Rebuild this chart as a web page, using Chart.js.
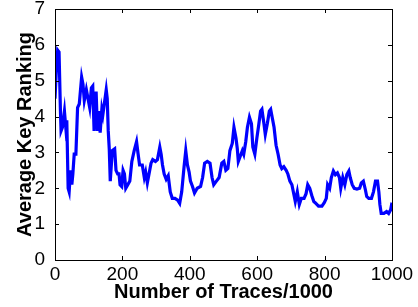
<!DOCTYPE html>
<html>
<head>
<meta charset="utf-8">
<script src="https://cdn.jsdelivr.net/npm/chart.js@4"></script>
<style>
  html, body { margin: 0; padding: 0; background: #fff; }
  #wrap { width: 418px; height: 307px; }
</style>
</head>
<body>
<div id="wrap"><canvas id="rankChart" width="418" height="307"></canvas></div>
<script>
// Number of traces (x1000)
const traces = [0, 4, 8, 12, 16, 18, 22, 28, 32, 35, 39, 42, 46, 50, 53, 57, 62, 67, 72, 79, 83, 87, 93, 98, 103, 108, 112, 116, 122, 126, 130, 134, 139, 142, 147, 152, 155, 158, 161, 164, 170, 177, 181, 186, 190, 193, 198, 202, 206, 210, 216, 222, 228, 235, 242, 246, 251, 259, 265, 269, 274, 279, 285, 290, 298, 304, 311, 315, 319, 324, 330, 336, 342, 348, 356, 364, 370, 376, 383, 388, 393, 398, 402, 408, 414, 422, 432, 438, 444, 452, 460, 466, 471, 479, 487, 495, 501, 507, 513, 519, 526, 531, 537, 541, 544, 550, 556, 560, 566, 571, 577, 583, 587, 593, 599, 605, 610, 614, 620, 624, 630, 636, 640, 644, 650, 656, 662, 668, 673, 679, 686, 691, 697, 703, 709, 713, 719, 725, 731, 739, 745, 750, 756, 762, 768, 772, 782, 792, 799, 805, 809, 815, 820, 826, 832, 838, 844, 848, 854, 860, 866, 872, 876, 882, 888, 896, 904, 909, 915, 921, 925, 931, 939, 945, 951, 957, 961, 964, 968, 976, 984, 990, 996, 1000];

// Average key ranking
const ranking = [4.5, 5.3, 5.85, 5.8, 4.2, 3.6, 3.7, 4.15, 3.7, 3.9, 2.0, 1.9, 2.5, 2.1, 2.4, 2.95, 2.95, 4.25, 4.35, 5.1, 4.9, 4.45, 4.75, 4.5, 4.25, 4.8, 4.85, 3.6, 4.7, 3.6, 4.15, 3.55, 4.2, 4.05, 4.4, 4.75, 4.5, 3.6, 3.1, 2.2, 3.05, 3.1, 2.5, 2.4, 2.4, 2.1, 2.05, 2.5, 2.4, 2.0, 2.1, 2.2, 2.75, 3.05, 3.3, 3.0, 2.65, 2.65, 2.3, 2.45, 2.15, 2.4, 2.7, 2.8, 2.75, 2.8, 3.15, 2.95, 2.65, 2.4, 2.25, 2.35, 1.9, 1.72, 1.72, 1.67, 1.58, 1.9, 2.6, 3.05, 2.65, 2.45, 2.2, 2.05, 1.87, 2.0, 2.05, 2.3, 2.7, 2.75, 2.7, 2.3, 2.1, 2.2, 2.3, 2.7, 2.75, 2.5, 2.55, 3.05, 3.25, 3.7, 3.4, 3.1, 2.75, 2.9, 3.05, 2.95, 3.3, 3.7, 3.98, 3.8, 3.15, 2.95, 3.4, 3.8, 4.15, 4.2, 3.8, 3.5, 3.8, 4.15, 4.2, 4.0, 3.7, 3.2, 2.95, 2.65, 2.55, 2.6, 2.5, 2.4, 2.2, 2.1, 1.82, 1.63, 1.9, 1.55, 1.72, 1.72, 1.85, 2.1, 2.0, 1.8, 1.63, 1.6, 1.5, 1.5, 1.6, 1.72, 2.1, 2.0, 2.3, 2.48, 2.38, 2.43, 2.3, 2.0, 2.3, 2.1, 2.38, 2.48, 2.3, 2.1, 2.0, 1.98, 2.0, 2.15, 2.2, 1.96, 1.77, 1.72, 1.72, 1.9, 2.2, 2.2, 1.9, 1.55, 1.3, 1.3, 1.35, 1.3, 1.4, 1.6];

const xTicks = [0, 200, 400, 600, 800, 1000];
const yTicks = [0, 1, 2, 3, 4, 5, 6, 7];

// matlab-style box with inward ticks on all sides
const boxTicks = {
  id: "boxTicks",
  afterDraw(chart) {
    const { ctx, chartArea: a, scales } = chart;
    const len = 4;
    ctx.save();
    ctx.strokeStyle = "#000";
    ctx.lineWidth = 1;
    ctx.beginPath();
    xTicks.forEach(v => {
      const px = Math.round(scales.x.getPixelForValue(v)) + 0.5;
      ctx.moveTo(px, a.bottom); ctx.lineTo(px, a.bottom - len);
      ctx.moveTo(px, a.top); ctx.lineTo(px, a.top + len);
    });
    yTicks.forEach(v => {
      const py = Math.round(scales.y.getPixelForValue(v)) + 0.5;
      ctx.moveTo(a.left, py); ctx.lineTo(a.left + len, py);
      ctx.moveTo(a.right, py); ctx.lineTo(a.right - len, py);
    });
    ctx.stroke();
    ctx.strokeRect(Math.round(a.left) + 0.5, Math.round(a.top) + 0.5,
      Math.round(a.right - a.left), Math.round(a.bottom - a.top));
    ctx.restore();
  }
};

document.addEventListener("DOMContentLoaded", () => {
  const ctx = document.getElementById("rankChart").getContext("2d");
  new Chart(ctx, {
    type: "line",
    data: {
      datasets: [{
        data: traces.map((t, i) => ({ x: t, y: ranking[i] })),
        borderColor: "#0000ff",
        borderWidth: 3.2,
        pointRadius: 0,
        tension: 0,
        fill: false
      }]
    },
    options: {
      responsive: false,
      animation: false,
      layout: { padding: { top: 9, right: 26, left: 0, bottom: 0 } },
      plugins: { legend: { display: false }, tooltip: { enabled: false } },
      scales: {
        x: {
          type: "linear",
          min: 0,
          max: 1000,
          afterBuildTicks: s => { s.ticks = xTicks.map(v => ({ value: v })); },
          afterFit: s => { s.height = 47; s.paddingLeft = 0; s.paddingRight = 0; },
          grid: { display: false },
          border: { display: false },
          ticks: {
            color: "#000",
            padding: -5,
            maxRotation: 0,
            callback: v => String(v),
            font: { family: "Liberation Sans, Arial, sans-serif", size: 19 }
          },
          title: {
            display: true,
            text: "Number of Traces/1000",
            color: "#000",
            padding: { top: 0, bottom: 3 },
            font: { family: "Liberation Sans, Arial, sans-serif", size: 20, weight: "bold", lineHeight: 1.2 }
          }
        },
        y: {
          min: 0,
          max: 7,
          afterBuildTicks: s => { s.ticks = yTicks.map(v => ({ value: v })); },
          afterFit: s => { s.width = 55; s.paddingTop = 0; s.paddingBottom = 0; },
          grid: { display: false },
          border: { display: false },
          ticks: {
            color: "#000",
            padding: 2,
            font: { family: "Liberation Sans, Arial, sans-serif", size: 19 }
          },
          title: {
            display: true,
            text: "Average Key Ranking",
            color: "#000",
            padding: { top: 13, bottom: 0 },
            font: { family: "Liberation Sans, Arial, sans-serif", size: 20, weight: "bold", lineHeight: 1.2 }
          }
        }
      }
    },
    plugins: [boxTicks]
  });
});
</script>
</body>
</html>
